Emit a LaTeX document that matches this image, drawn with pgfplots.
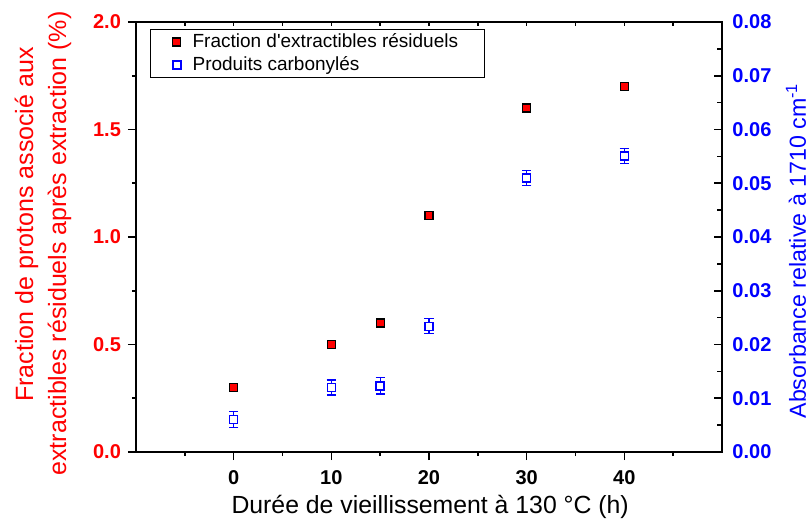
\documentclass[border=0pt]{standalone}
\usepackage{pgfplots}
\pgfplotsset{compat=1.18}
\usepackage{fontspec}
\setmainfont{Liberation Sans}
\definecolor{myred}{RGB}{255,0,0}
\definecolor{myblue}{RGB}{0,0,255}
\begin{document}
\begin{tikzpicture}
% right axis (blue series)
\begin{axis}[
  scale only axis, width=293pt, height=215pt,
  xmin=-10, xmax=50, ymin=0, ymax=0.08,
  axis line style={line width=1pt, black},
  xtick=\empty,
  ytick={0,0.01,0.02,0.03,0.04,0.05,0.06,0.07,0.08},
  minor ytick={0.005,0.015,0.025,0.035,0.045,0.055,0.065,0.075},
  ytick pos=right, yticklabel pos=right,
  tick align=inside, major tick length=4pt, minor tick length=2.5pt,
  tick style={line width=0.8pt, black},
  scaled y ticks=false,
  /pgf/number format/assume math mode=true,
  tick label style={font=\fontsize{10}{12}\selectfont\bfseries},
  yticklabel style={myblue, /pgf/number format/.cd, fixed, fixed zerofill, precision=2},
  yticklabel shift=1.7pt,
  ylabel={Absorbance relative à 1710 cm\textsuperscript{-1}},
  ylabel style={at={(axis description cs:1.143,0.468)}, anchor=base, myblue, font=\fontsize{11.6}{13}\selectfont},
]
\coordinate (sw) at (rel axis cs:0,0);
\addplot[draw=myblue, only marks, mark=square*, mark size=2pt, mark options={fill=white, draw=myblue, line width=0.7pt},
  error bars/.cd, y dir=both, y explicit,
  error bar style={draw=myblue, line width=0.6pt},
  error mark options={rotate=90, draw=myblue, mark size=2.3pt, line width=0.6pt}]
  coordinates {
    (0,0.0061) +- (0,0.0015)
    (10,0.0120) +- (0,0.0014)
    (15,0.0123) +- (0,0.0015)
    (20,0.0234) +- (0,0.0014)
    (30,0.0510) +- (0,0.0014)
    (40,0.0551) +- (0,0.0014)
  };
\end{axis}
% top ticks
\begin{axis}[
  scale only axis, width=293pt, height=215pt,
  xmin=-10, xmax=50, ymin=0, ymax=2,
  axis line style={line width=1pt, black},
  xtick={0,10,20,30,40}, minor xtick={-5,5,15,25,35,45},
  ytick=\empty, xticklabels={},
  xtick pos=right, tick align=inside,
  major tick length=1.8pt, minor tick length=1.8pt,
  tick style={line width=0.8pt, black},
]
\end{axis}
% left axis + bottom axis (red series) with legend
\begin{axis}[
  scale only axis, width=293pt, height=215pt,
  xmin=-10, xmax=50, ymin=0, ymax=2,
  axis line style={line width=1pt, black},
  xtick={0,10,20,30,40}, minor xtick={-5,5,15,25,35,45},
  ytick={0,0.5,1,1.5,2}, minor ytick={0.25,0.75,1.25,1.75},
  xtick pos=left, ytick pos=left,
  tick align=outside, major tick length=4pt, minor tick length=2pt,
  tick style={line width=0.8pt, black},
  scaled y ticks=false,
  /pgf/number format/assume math mode=true,
  tick label style={font=\fontsize{10}{12}\selectfont\bfseries},
  yticklabel style={myred, /pgf/number format/.cd, fixed, fixed zerofill, precision=1},
  xticklabel shift=1.7pt,
  xlabel={Durée de vieillissement à 130 °C (h)},
  xlabel style={at={(axis description cs:0.502,-0.142)}, anchor=base, font=\fontsize{12.4}{14}\selectfont},
  ylabel={\hspace*{19pt}Fraction de protons associé aux\\extractibles résiduels après extraction (\%)},
  ylabel style={at={(axis description cs:-0.1587,0.485)}, anchor=center, align=center, myred, font=\fontsize{12.5}{16.5}\selectfont},
  legend style={at={(axis description cs:0.0239,0.984)}, anchor=north west, draw=black, text=black, line width=0.6pt,
    font=\fontsize{9.5}{11}\selectfont, inner xsep=1pt, inner ysep=0pt, row sep=-1pt},
  legend cell align=left,
  legend image code/.code={\draw[#1] plot coordinates {(11.8pt,0pt)}; \path (0pt,0pt) (17.4pt,0pt);},
]
\addplot[only marks, mark=square*, mark size=2pt, mark options={fill=myred, draw=black, line width=0.6pt}]
  coordinates {(0,0.3) (10,0.5) (15,0.6) (20,1.1) (30,1.6) (40,1.7)};
\addlegendentry{Fraction d\textquotesingle extractibles résiduels\hspace*{10pt}}
\addlegendimage{only marks, mark=square*, mark size=2pt, mark options={fill=white, draw=myblue, line width=0.7pt}}
\addlegendentry{Produits carbonylés}
\end{axis}
\pgfresetboundingbox
\path[use as bounding box] (sw) ++(-68pt,-34pt) rectangle ++(404.5pt,260pt);
\end{tikzpicture}
\end{document}
